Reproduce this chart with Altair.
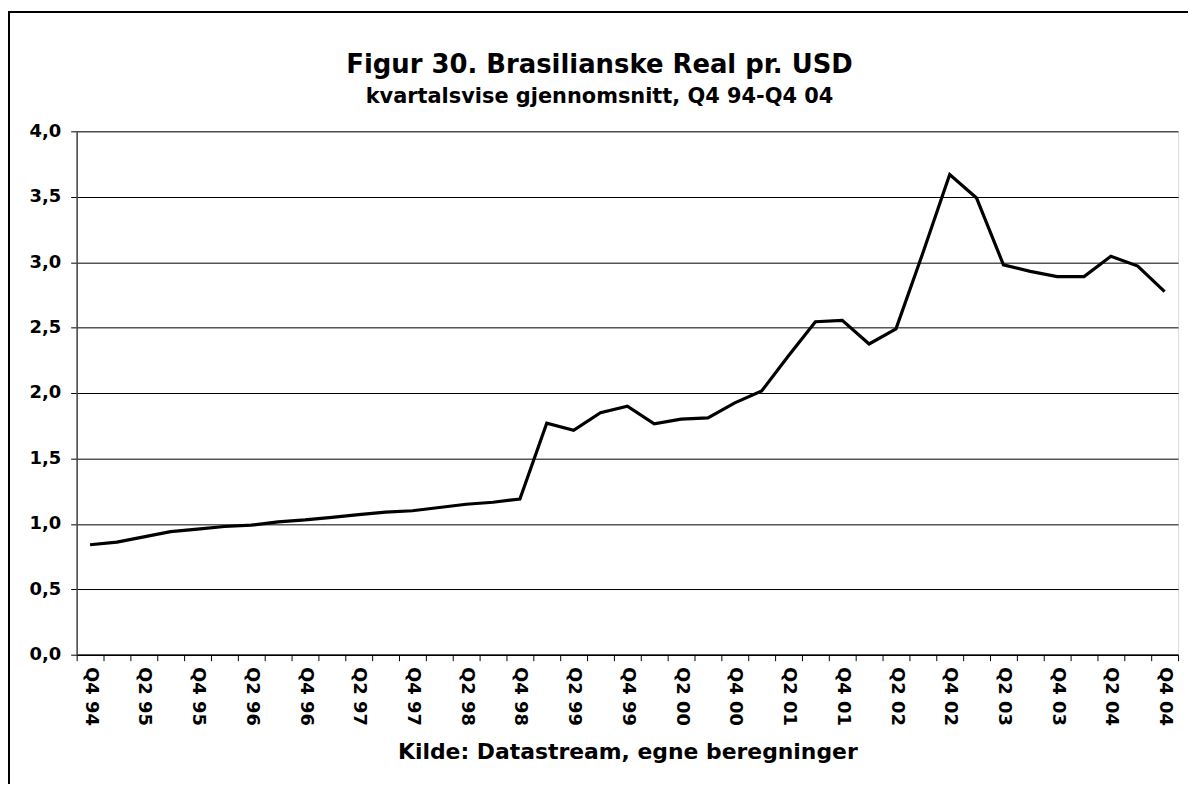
import altair as alt
import pandas as pd

quarters = [
    "Q4 94",
    "Q1 95", "Q2 95", "Q3 95", "Q4 95",
    "Q1 96", "Q2 96", "Q3 96", "Q4 96",
    "Q1 97", "Q2 97", "Q3 97", "Q4 97",
    "Q1 98", "Q2 98", "Q3 98", "Q4 98",
    "Q1 99", "Q2 99", "Q3 99", "Q4 99",
    "Q1 00", "Q2 00", "Q3 00", "Q4 00",
    "Q1 01", "Q2 01", "Q3 01", "Q4 01",
    "Q1 02", "Q2 02", "Q3 02", "Q4 02",
    "Q1 03", "Q2 03", "Q3 03", "Q4 03",
    "Q1 04", "Q2 04", "Q3 04", "Q4 04",
]
brl_per_usd = [
    0.84,
    0.86, 0.90, 0.94, 0.96,
    0.98, 0.99, 1.015, 1.03,
    1.05, 1.07, 1.09, 1.10,
    1.125, 1.15, 1.165, 1.19,
    1.77, 1.715, 1.85, 1.90,
    1.765, 1.80, 1.81, 1.925,
    2.015, 2.285, 2.545, 2.555,
    2.375, 2.49, 3.07, 3.67,
    3.49, 2.98, 2.93, 2.89,
    2.89, 3.045, 2.97, 2.775,
]
y_ticks = [0, 0.5, 1.0, 1.5, 2.0, 2.5, 3.0, 3.5, 4.0]

df = pd.DataFrame({"q": quarters, "v": brl_per_usd})

FONT = "DejaVu Sans"
W, H = 1107, 526

line = alt.Chart(df).mark_line(color="black", strokeWidth=3.2).encode(
    x=alt.X(
        "q:N",
        sort=quarters,
        scale=alt.Scale(domain=quarters, paddingInner=0, paddingOuter=0),
        axis=alt.Axis(
            title="Kilde: Datastream, egne beregninger",
            titleFont=FONT,
            titleFontSize=22,
            titleFontWeight="bold",
            titleColor="black",
            titleBaseline="alphabetic",
            titleY=104,
            labelAngle=90,
            labelFont=FONT,
            labelFontSize=18,
            labelFontWeight="bold",
            labelColor="black",
            labelPadding=6,
            labelOverlap=False,
            labelExpr="(substring(datum.label,0,2)=='Q1' || substring(datum.label,0,2)=='Q3') ? '' : datum.label",
            tickBand="extent",
            tickSize=6,
            tickColor="black",
            domainColor="black",
            domainWidth=1.5,
            grid=False,
        ),
    ),
    y=alt.Y(
        "v:Q",
        scale=alt.Scale(domain=[0, 4], nice=False, zero=True),
        axis=alt.Axis(
            title=None,
            values=y_ticks,
            labelExpr="replace(format(datum.value, '.1f'), '.', ',')",
            labelFont=FONT,
            labelFontSize=18,
            labelFontWeight="bold",
            labelColor="black",
            labelPadding=10,
            tickSize=6,
            tickColor="black",
            domainColor="#444444",
            domainWidth=1.5,
            grid=True,
            gridColor="black",
            gridWidth=1,
        ),
    ),
)

border = alt.Chart(pd.DataFrame({"a": [0]})).mark_rect(
    fill=None, stroke="black", strokeWidth=2
).encode(
    x=alt.value(-68), x2=alt.value(1140), y=alt.value(-120), y2=alt.value(680)
)

chart = (
    alt.layer(border, line)
    .properties(
        width=W,
        height=H,
        padding={"left": 69, "top": 122, "right": 10, "bottom": 128},
        autosize=alt.AutoSizeParams(type="none"),
        title=alt.Title(
            "Figur 30. Brasilianske Real pr. USD",
            subtitle="kvartalsvise gjennomsnitt, Q4 94-Q4 04",
            font=FONT,
            fontSize=26,
            fontWeight="bold",
            color="black",
            subtitleFont=FONT,
            subtitleFontSize=21,
            subtitleFontWeight="bold",
            subtitleColor="black",
            subtitlePadding=9,
            anchor="middle",
            dx=-28,
            offset=-97,
        ),
    )
    .configure_view(stroke="#999999", strokeWidth=1.5)
    .configure(background="white")
)

chart.save("out.html", embed_options={"renderer": "svg", "actions": False})
